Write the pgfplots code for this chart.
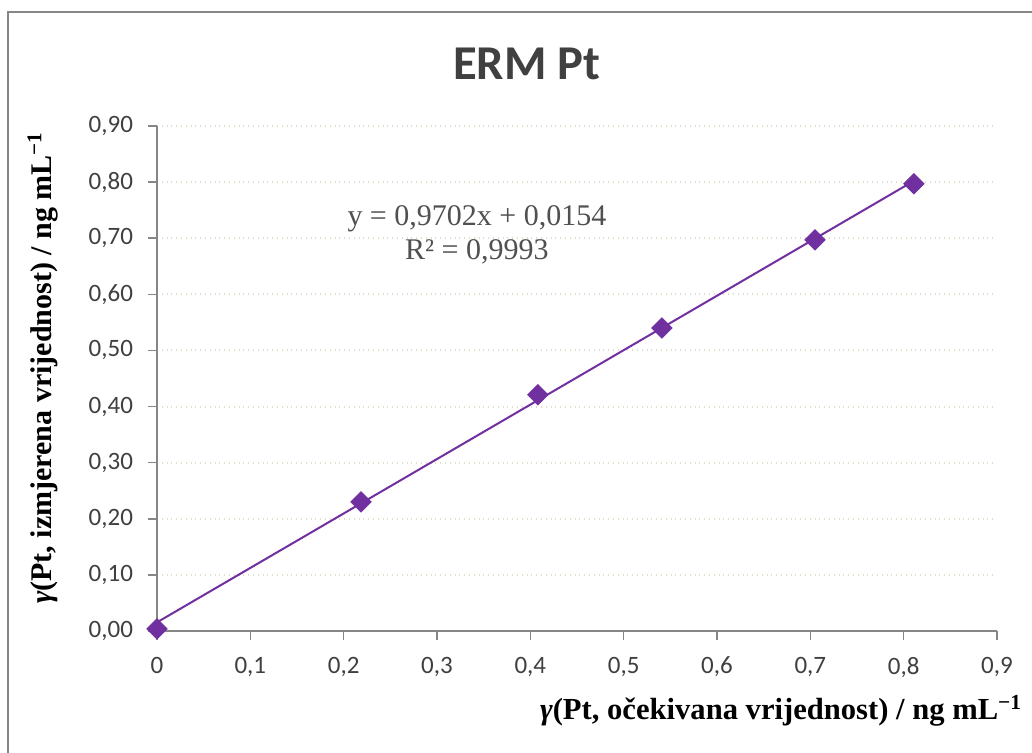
\documentclass[border=0pt]{standalone}
\usepackage{fontspec}
\setmainfont{Liberation Serif}
\newfontfamily\calibri{Carlito}
\usepackage{pgfplots}
\pgfplotsset{compat=1.18}
\definecolor{pur}{RGB}{112,48,160}
\definecolor{axgray}{RGB}{134,134,134}
\definecolor{gridc}{RGB}{220,220,200}
\definecolor{txt}{RGB}{64,64,64}
\definecolor{eqc}{RGB}{80,80,80}
\begin{document}
\begin{tikzpicture}
\useasboundingbox (-78.5pt,-61pt) rectangle (437.5pt,315.5pt);
\fill[white] (-78.5pt,-61pt) rectangle (437.5pt,315.5pt);
\draw[axgray, line width=0.75pt] (-74.5pt,-90pt) rectangle (470pt,309.5pt);
\begin{axis}[
  at={(0pt,0pt)}, anchor=south west,
  scale only axis, width=420pt, height=252.5pt,
  xmin=0, xmax=0.9, ymin=0, ymax=0.9,
  enlargelimits=false, clip=false,
  axis lines*=left,
  axis line style={-, draw=axgray, line width=1pt},
  tick align=outside, major tick length=4.5pt,
  tick style={axgray, line width=0.75pt},
  xtick={0,0.1,...,0.9}, ytick={0,0.1,...,0.9},
  ymajorgrids, grid style={gridc, dotted, line width=1pt},
  /pgf/number format/assume math mode=true,
  xticklabel style={font=\calibri\fontsize{12.5}{14}\selectfont, color=txt, yshift=-5pt, /pgf/number format/.cd, use comma, fixed, precision=1},
  yticklabel style={font=\calibri\fontsize{12.5}{14}\selectfont, color=txt, xshift=-4pt, /pgf/number format/.cd, use comma, fixed, fixed zerofill, precision=2},
  scaled ticks=false,
  title={ERM Pt},
  title style={at={(axis description cs:0.4405,1.099)}, anchor=center, font=\calibri\bfseries\fontsize{24.3}{28}\selectfont, color=txt},
  xlabel={\textbf{\textit{γ}(Pt, očekivana vrijednost) / ng mL\textsuperscript{−1}}},
  x label style={at={(axis description cs:0.4476,-0.176)}, anchor=base west, font=\fontsize{15.3}{18}\selectfont},
  ylabel={\textbf{\textit{γ}(Pt, izmjerena vrijednost) / ng mL\textsuperscript{−1}}},
  y label style={at={(axis description cs:-0.1357,0.521)}, anchor=center, rotate=0, font=\fontsize{15}{18}\selectfont},
]
\addplot[pur, line width=1pt] coordinates {(0,0.0154) (0.811,0.8022)};
\addplot[only marks, mark=square*, mark size=3.6pt, color=pur, mark options={fill=pur, rotate=45}] coordinates {
(0,0.004) (0.2186,0.230) (0.408,0.421) (0.541,0.540) (0.705,0.697) (0.811,0.797)};
\node[align=center, font=\fontsize{15}{17}\selectfont, color=eqc] at (axis cs:0.3428,0.7057) {y = 0,9702x + 0,0154\\R² = 0,9993};
\end{axis}
\end{tikzpicture}
\end{document}
